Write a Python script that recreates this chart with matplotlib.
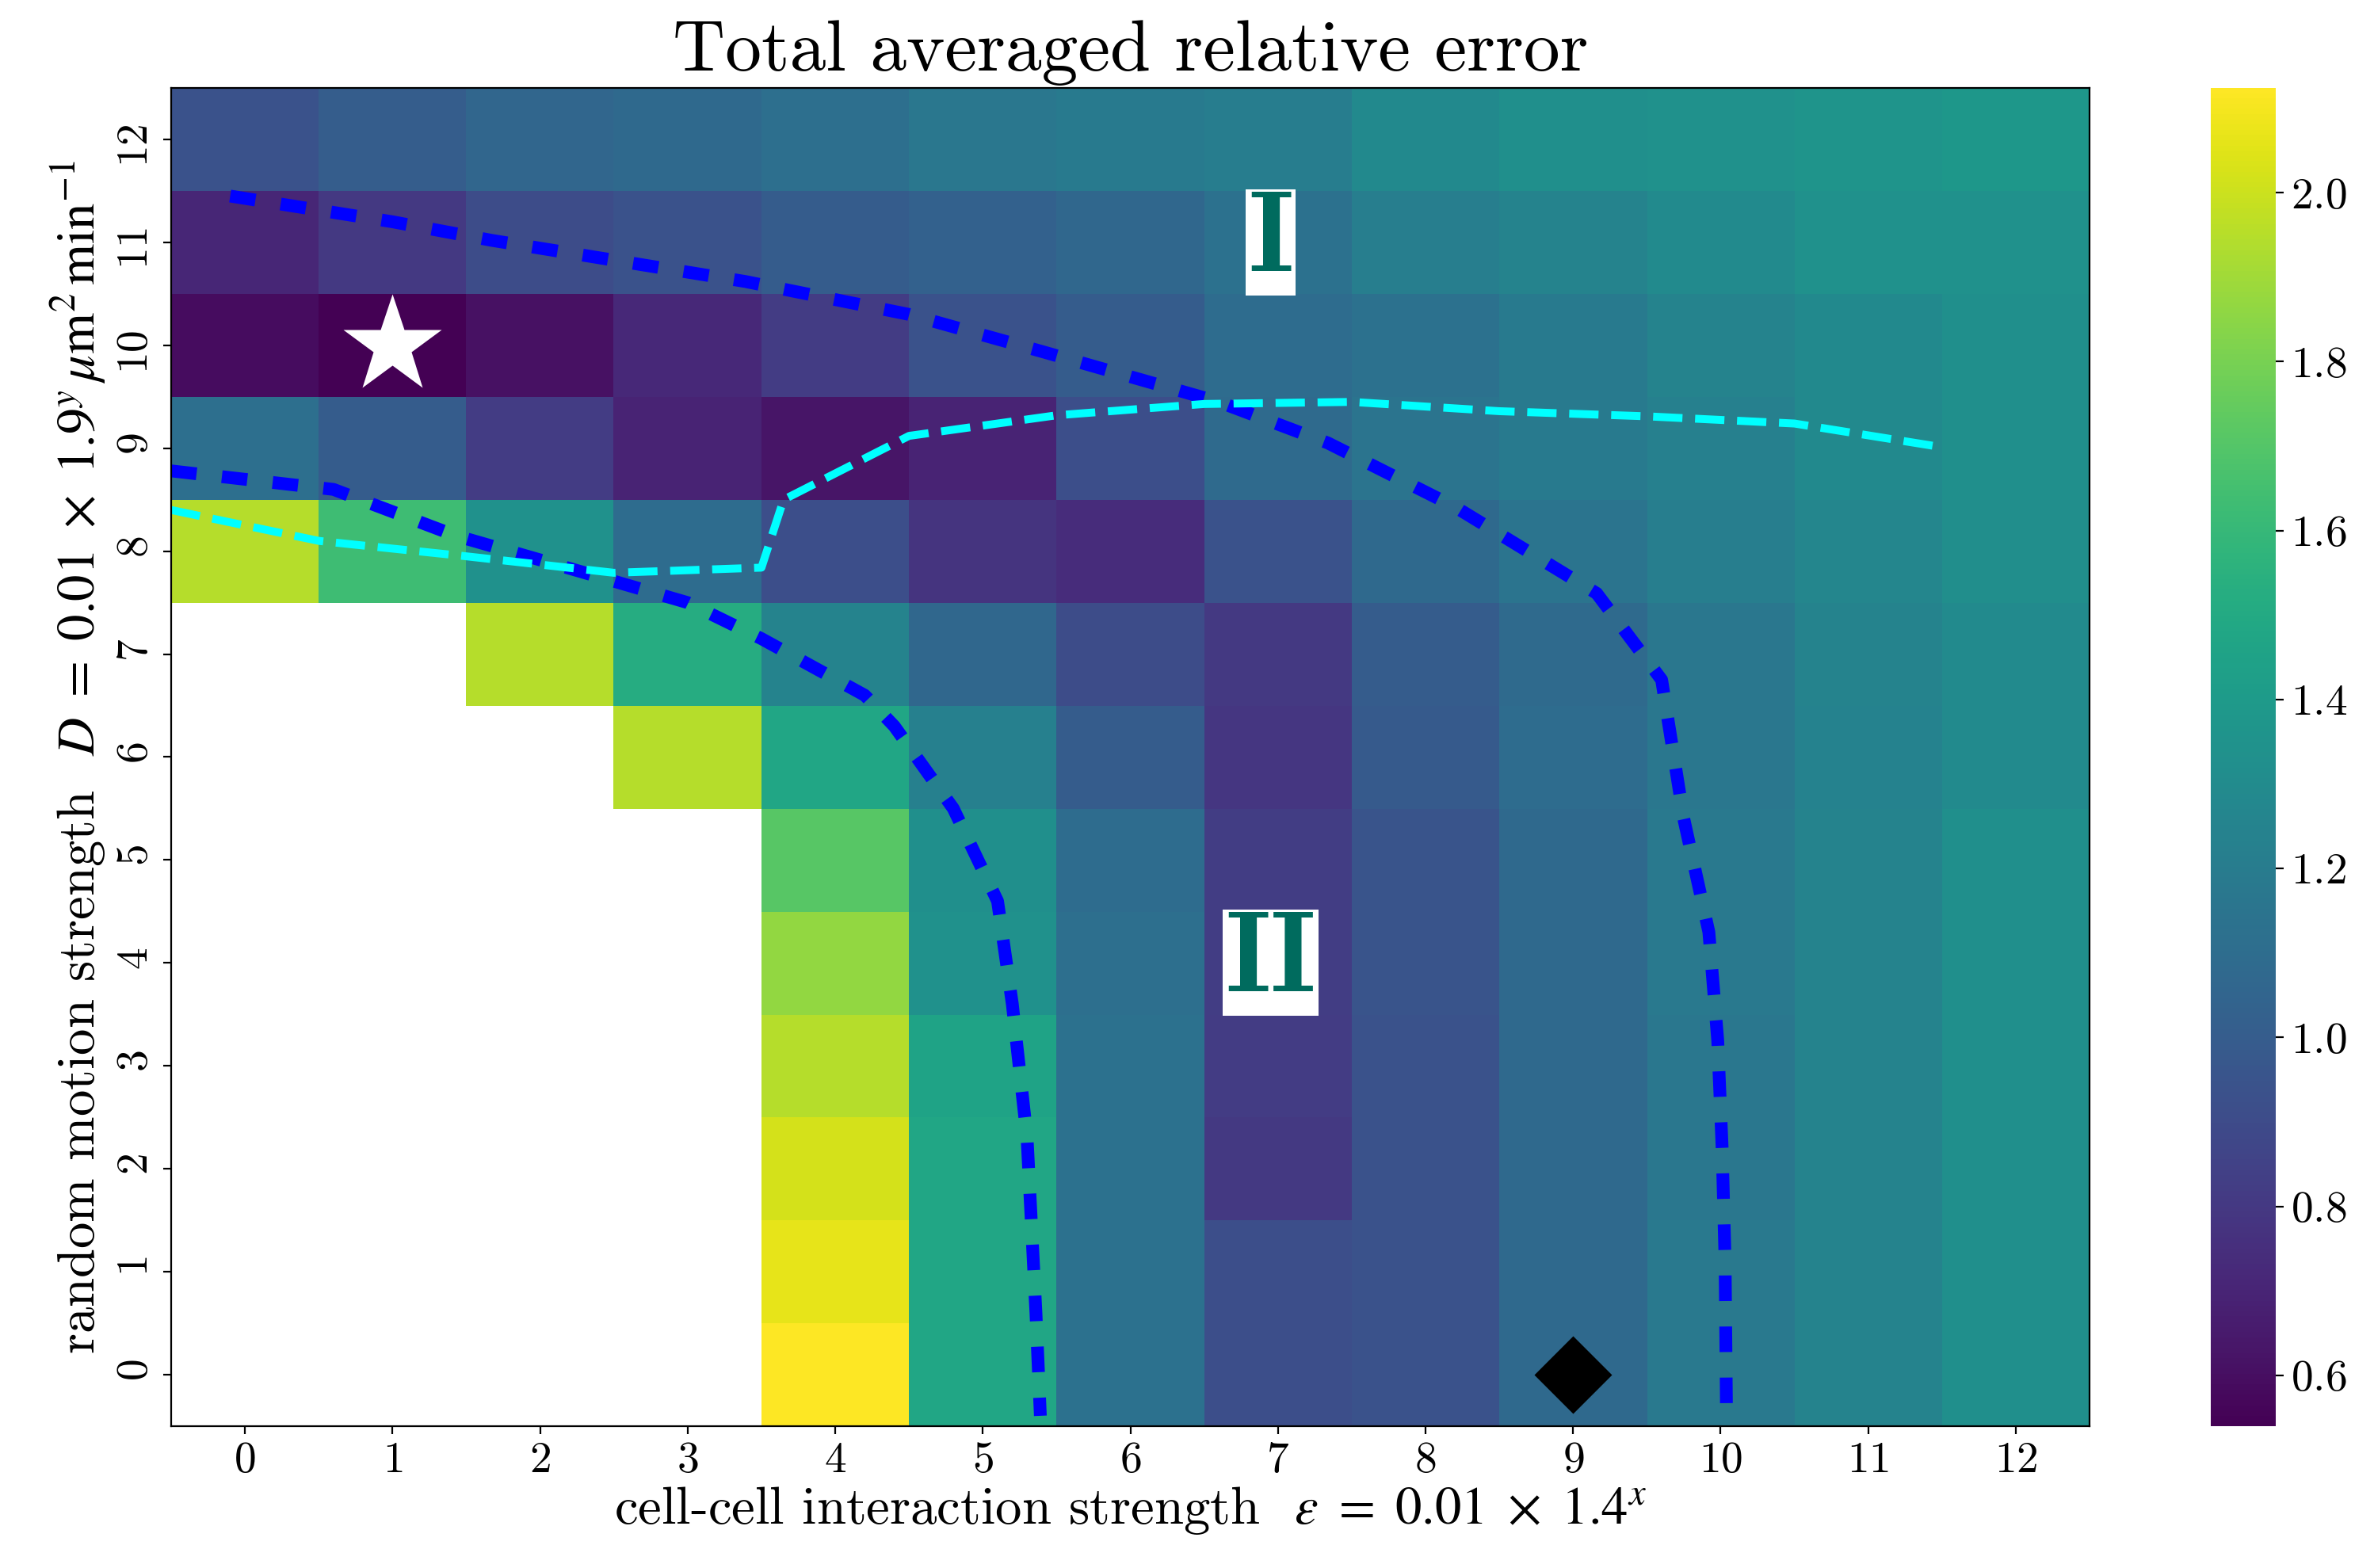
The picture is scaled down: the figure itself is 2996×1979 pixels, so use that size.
import matplotlib

matplotlib.use("Agg")
import matplotlib.pyplot as plt  # noqa: E402
import numpy as np  # noqa: E402

nan = np.nan

# heatmap values, one list per y (row 0 = bottom)
row0 = [nan, nan, nan, nan, 2.124, 1.48, 1.13, 0.92, 0.94, 1.08, 1.18, 1.25, 1.33]
row1 = [nan, nan, nan, nan, 2.065, 1.48, 1.13, 0.92, 0.94, 1.08, 1.18, 1.25, 1.33]
row2 = [nan, nan, nan, nan, 2.025, 1.48, 1.13, 0.80, 0.94, 1.08, 1.17, 1.25, 1.33]
row3 = [nan, nan, nan, nan, 1.95, 1.46, 1.13, 0.82, 0.94, 1.08, 1.17, 1.25, 1.33]
row4 = [nan, nan, nan, nan, 1.87, 1.34, 1.12, 0.83, 0.95, 1.08, 1.18, 1.25, 1.33]
row5 = [nan, nan, nan, nan, 1.71, 1.33, 1.10, 0.83, 0.95, 1.08, 1.18, 1.25, 1.33]
row6 = [nan, nan, nan, 1.95, 1.48, 1.23, 1.00, 0.79, 0.99, 1.10, 1.17, 1.24, 1.30]
row7 = [nan, nan, 1.95, 1.52, 1.25, 1.07, 0.91, 0.80, 1.00, 1.09, 1.17, 1.25, 1.30]
row8 = [1.95, 1.63, 1.34, 1.10, 0.92, 0.78, 0.74, 0.94, 1.08, 1.15, 1.22, 1.27, 1.32]
row9 = [1.12, 1.00, 0.82, 0.70, 0.63, 0.70, 0.92, 1.09, 1.15, 1.19, 1.23, 1.29, 1.33]
row10 = [0.59, 0.54, 0.61, 0.72, 0.82, 0.94, 1.00, 1.10, 1.13, 1.19, 1.25, 1.29, 1.33]
row11 = [0.71, 0.80, 0.91, 0.94, 1.00, 1.03, 1.07, 1.13, 1.22, 1.25, 1.30, 1.34, 1.34]
row12 = [0.94, 1.01, 1.06, 1.08, 1.12, 1.17, 1.19, 1.21, 1.29, 1.33, 1.34, 1.36, 1.38]

# boundary curves (x, y in grid units)
upper_x = [-0.1, 1.0, 1.67, 3.39, 4.5, 5.4, 6.6, 7.34, 8.2, 9.16, 9.6, 9.75, 9.92, 9.98, 10.01, 10.03, 10.04]
upper_y = [11.45, 11.2, 11.02, 10.62, 10.3, 9.94, 9.45, 9.05, 8.43, 7.59, 6.75, 5.4, 4.3, 3.25, 2.2, 1.1, -0.45]
lower_x = [-0.5, 0.6, 1.43, 2.4, 3.0, 3.5, 4.2, 4.4, 4.8, 5.1, 5.2, 5.3, 5.36, 5.39]
lower_y = [8.78, 8.6, 8.15, 7.75, 7.5, 7.15, 6.6, 6.3, 5.5, 4.6, 3.6, 2.3, 0.6, -0.4]
cyan_x = [-0.5, 0.5, 1.5, 2.5, 3.5, 3.65, 4.5, 5.5, 6.5, 7.5, 8.5, 9.5, 10.5, 11.5]
cyan_y = [8.4, 8.1, 7.95, 7.79, 7.84, 8.5, 9.12, 9.32, 9.43, 9.45, 9.36, 9.31, 9.24, 9.01]

star_xy = (1, 10)
diamond_xy = (9, 0)
region_labels = [("I", 6.95, 11), ("II", 6.95, 4)]
ticks = list(range(13))

plt.rcParams["font.family"] = "serif"
plt.rcParams["font.serif"] = ["cmr10", "DejaVu Serif"]
plt.rcParams["mathtext.fontset"] = "stix"
plt.rcParams["axes.formatter.use_mathtext"] = True
plt.rcParams["axes.unicode_minus"] = False

data = np.array([row0, row1, row2, row3, row4, row5, row6, row7, row8,
                 row9, row10, row11, row12])

fig = plt.figure(figsize=(14.98, 9.895), dpi=200)
ax = fig.add_axes([0.0721, 0.0905, 0.8081, 0.8534])
cax = fig.add_axes([0.9312, 0.0905, 0.0274, 0.8534])

im = ax.imshow(data, cmap="viridis", origin="lower", aspect="auto")
cb = fig.colorbar(im, cax=cax)
cb.outline.set_linewidth(0)
cb.set_ticks([0.6, 0.8, 1.0, 1.2, 1.4, 1.6, 1.8, 2.0])
cb.ax.tick_params(labelsize=20)

ax.plot(upper_x, upper_y, color="blue", lw=5.8, linestyle=(0, (2, 2)))
ax.plot(lower_x, lower_y, color="blue", lw=5.8, linestyle=(0, (2, 2)))
ax.plot(cyan_x, cyan_y, color="cyan", lw=3.6, linestyle="--")

ax.plot(*star_xy, marker="*", ms=47, color="white", mec="none")
ax.plot(*diamond_xy, marker="D", ms=25, color="black", mec="none")

for txt, x, y in region_labels:
    ax.text(x, y, txt, family="cmb10", fontsize=52, color="#006B5E",
            ha="center", va="center",
            bbox=dict(facecolor="white", edgecolor="none", pad=1))

ax.set_xlim(-0.5, 12.5)
ax.set_ylim(-0.5, 12.5)
ax.set_xticks(ticks)
ax.set_yticks(ticks)
ax.tick_params(labelsize=20)
ax.tick_params(axis="y", labelrotation=90)

ax.set_title("Total averaged relative error", fontsize=33, pad=8)
ax.set_xlabel(r"cell-cell interaction strength  $\epsilon\ =\ 0.01\ \times\ 1.4^x$",
              fontsize=24, labelpad=2)
ax.set_ylabel(r"random motion strength  $D\ =\ 0.01\ \times\ 1.9^y\,\mu\mathrm{m}^2\,\mathrm{min}^{-1}$",
              fontsize=24, labelpad=4)

fig.savefig("out.png", dpi=200)
